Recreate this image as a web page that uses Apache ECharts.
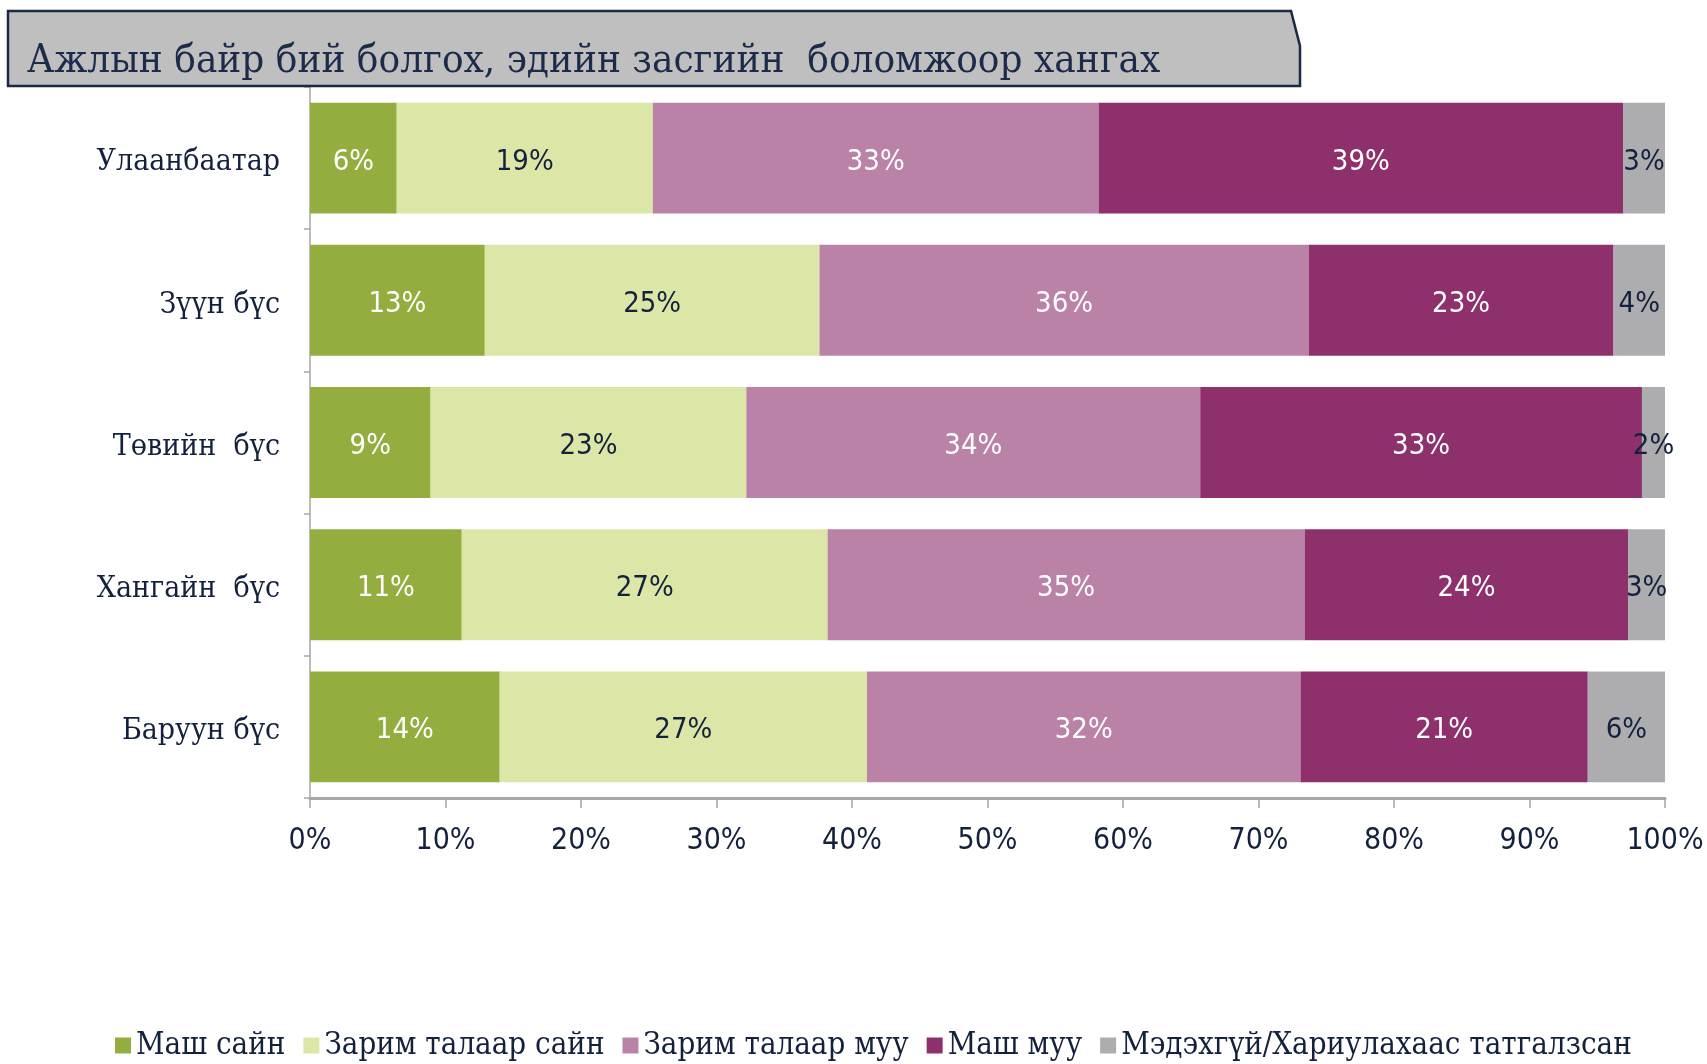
<!DOCTYPE html>
<html>
<head>
<meta charset="utf-8">
<script src="https://cdn.jsdelivr.net/npm/echarts@6/dist/echarts.min.js"></script>
<style>
  html, body { margin: 0; padding: 0; background: #fff; }
  #chart { width: 1707px; height: 1064px; }
</style>
</head>
<body>
<div id="chart"></div>
<script>
// regions, top to bottom
const regions = ['Улаанбаатар', 'Зүүн бүс', 'Төвийн  бүс', 'Хангайн  бүс', 'Баруун бүс']
const seriesNames = ['Маш сайн', 'Зарим талаар сайн', 'Зарим талаар муу', 'Маш муу', 'Мэдэхгүй/Хариулахаас татгалзсан']

// shares in %
const veryGood = [6.4, 12.9, 8.9, 11.2, 14.0]
const fairlyGood = [18.9, 24.7, 23.3, 27.0, 27.1]
const fairlyBad = [32.9, 36.1, 33.5, 35.2, 32.0]
const veryBad = [38.7, 22.5, 32.6, 23.9, 21.2]
const dontKnow = [3.1, 3.8, 1.7, 2.7, 5.7]

const xTicks = [0, 10, 20, 30, 40, 50, 60, 70, 80, 90, 100]

const colors = ['#93ae3e', '#dce6a6', '#bb82a8', '#8e306c', '#adadaf']
const labelColors = ['#fff', '#14213d', '#fff', '#fff', '#14213d']
const navy = '#14213d'
const serif = '"DejaVu Serif Condensed", "Liberation Serif", serif'
const narrow = '"Liberation Sans Narrow", "DejaVu Sans Condensed", sans-serif'

const chart = echarts.init(document.getElementById('chart'))

const allData = [veryGood, fairlyGood, fairlyBad, veryBad, dontKnow]

chart.setOption({
  animation: false,
  textStyle: { fontFamily: serif },
  graphic: [{
    type: 'polygon',
    shape: { points: [[8, 11], [1291, 11], [1300, 46], [1300, 86], [8, 86]] },
    style: { fill: '#bfbfbf', stroke: '#1a2a44', lineWidth: 2.5 },
    z: 10
  }, {
    type: 'text',
    left: 27,
    top: 42,
    style: {
      text: 'Ажлын байр бий болгох, эдийн засгийн  боломжоор хангах',
      font: '40px ' + serif,
      fill: '#1c2b4a'
    },
    z: 11
  }],
  legend: {
    bottom: -2,
    left: 110,
    itemWidth: 16,
    itemHeight: 16,
    itemGap: 18,
    icon: 'rect',
    textStyle: { fontFamily: serif, fontSize: 31, color: navy }
  },
  grid: { left: 310, right: 42, top: 87, bottom: 266 },
  xAxis: {
    type: 'value',
    min: 0,
    max: 100,
    interval: 10,
    axisLine: { show: true, lineStyle: { color: '#a6a6a6', width: 3 } },
    axisTick: { show: true, length: 10, lineStyle: { color: '#a6a6a6', width: 1.5 } },
    splitLine: { show: false },
    axisLabel: {
      margin: 28,
      fontFamily: narrow,
      fontSize: 30,
      color: navy,
      formatter: v => xTicks.includes(v) ? v + '%' : ''
    }
  },
  yAxis: {
    type: 'category',
    inverse: true,
    data: regions,
    axisLine: { show: true, lineStyle: { color: '#a6a6a6', width: 1.5 } },
    axisTick: { show: true, length: 6, lineStyle: { color: '#a6a6a6', width: 1.5 } },
    axisLabel: {
      margin: 30,
      color: navy,
      formatter: v => '{r|' + v + '}',
      rich: {
        r: { fontFamily: serif, fontSize: 30, color: navy, padding: [9, 0, 0, 0] }
      }
    }
  },
  series: seriesNames.map((name, i) => ({
    name,
    type: 'bar',
    stack: 'total',
    barWidth: '78%',
    data: allData[i],
    itemStyle: { color: colors[i] },
    label: {
      show: true,
      position: 'inside',
      offset: [0, 4],
      fontFamily: narrow,
      fontSize: 29,
      color: labelColors[i],
      formatter: p => Math.round(p.value) + '%'
    }
  }))
})
</script>
</body>
</html>
